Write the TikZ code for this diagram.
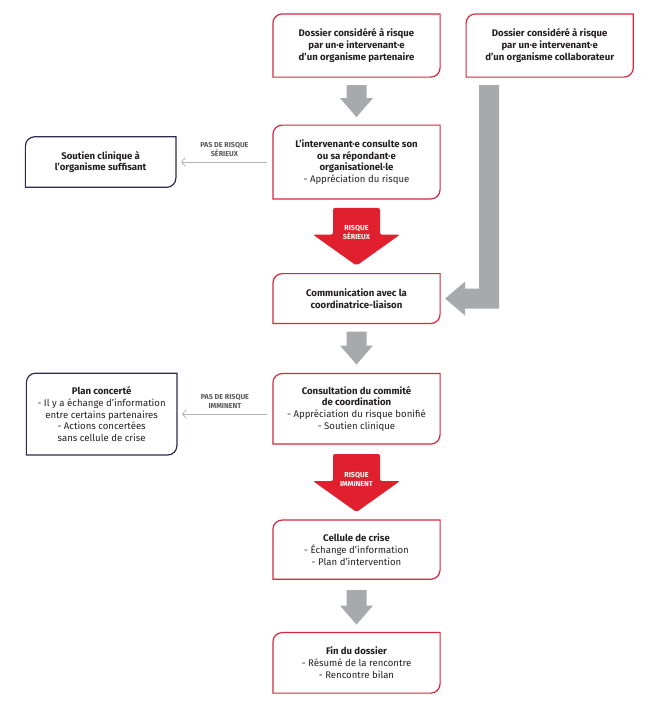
\documentclass[tikz,border=0pt]{standalone}
\usepackage{fontspec}
\setmainfont{Fira Sans}
\usetikzlibrary{positioning,calc,arrows.meta}

\definecolor{rouge}{HTML}{D7263D}
\definecolor{rougefleche}{HTML}{E0202E}
\definecolor{gris}{HTML}{A7A9AC}
\definecolor{grisfin}{HTML}{B4B4B4}
\definecolor{marine}{HTML}{2E2A4F}
\definecolor{texte}{HTML}{231F20}

% bord avec coins arrondis en haut a gauche et en bas a droite
\newcommand\coinbord[2]{\draw[#2, line width=0.9pt] (#1.north) -- (#1.north east)
	[rounded corners=7pt] -- (#1.south east) [sharp corners] -- (#1.south west)
	[rounded corners=7pt] -- (#1.north west) [sharp corners] -- cycle;}
% grosse fleche vers le bas : haut, pointe, demi-tige, demi-tete, longueur tete, style
\newcommand\grossefleche[6]{\fill[#6] ($(#1)+(-#3,0)$) -- ($(#1)+(#3,0)$) -- ($(#2)+(#3,-#5)$)
	-- ($(#2)+(#4,-#5)$) -- (#2) -- ($(#2)+(-#4,-#5)$) -- ($(#2)+(-#3,-#5)$) -- cycle;}

\begin{document}
\begin{tikzpicture}[x=0.75pt,y=-0.75pt,
					boite/.style={align=center, text=texte, inner sep=2pt, minimum width=125pt,
						font=\fontsize{7.2}{8.8}\selectfont},
					petite/.style={boite, minimum width=112.5pt},
					etiq/.style={align=center, text=black!65, inner sep=0pt,
						font=\fontsize{5.4}{6.8}\selectfont\bfseries},
					etiqrouge/.style={etiq, text=white},
					fin/.style={grisfin, line width=0.6pt, -{Straight Barb[length=3pt,width=6.5pt]},
						shorten <=4.5pt, shorten >=3.75pt}]
	\useasboundingbox (0,0) rectangle (655,718);
	
	\node[boite, minimum height=47pt] (A) at (356.5,45.5)
		{\textbf{Dossier considéré à risque}\\\textbf{par un·e intervenant·e}\\\textbf{d’un organisme partenaire}};
	\node[boite, minimum height=47pt, right=19.5pt of A] (B)
		{\textbf{Dossier considéré à risque}\\\textbf{par un·e intervenant·e}\\\textbf{d’un organisme collaborateur}};
	\node[boite, minimum height=55pt, below=36pt of A] (C)
		{\textbf{L’intervenant·e consulte son}\\\textbf{ou sa répondant·e}\\\textbf{organisationel·le}\\- Appréciation du risque};
	\node[petite, minimum height=37.5pt, left=72.75pt of C] (G)
		{\textbf{Soutien clinique à}\\\textbf{l’organisme suffisant}};
	\node[boite, minimum height=37pt, below=56pt of C] (D)
		{\textbf{Communication avec la}\\\textbf{coordinatrice-liaison}};
	\node[boite, minimum height=52.5pt, below=37.5pt of D] (E)
		{\textbf{Consultation du commité}\\\textbf{de coordination}\\- Appréciation du risque bonifié\\- Soutien clinique};
	\node[petite, minimum height=61pt, left=72pt of E, yshift=-4pt] (F)
		{\textbf{Plan concerté}\\- Il y a échange d’information\\entre certains partenaires\\- Actions concertées\\sans cellule de crise};
	\node[boite, minimum height=44pt, below=57pt of E] (H)
		{\textbf{Cellule de crise}\\- Échange d’information\\- Plan d’intervention};
	\node[boite, minimum height=45pt, below=40pt of H] (I)
		{\textbf{Fin du dossier}\\- Résumé de la rencontre\\- Rencontre bilan};
	
	\foreach \n in {A,B,C,D,E,H,I} {\coinbord{\n}{rouge}}
	\foreach \n in {G,F} {\coinbord{\n}{marine}}
	
	% fleches grises
	\coordinate (a1) at ($(A.south)+(0,8)$);
	\coordinate (c1) at ($(C.north)+(0,-8)$);
	\grossefleche{a1}{c1}{10}{16.5}{19}{gris}
	\coordinate (d2) at ($(D.south)+(0,8)$);
	\coordinate (e2) at ($(E.north)+(0,-9)$);
	\grossefleche{d2}{e2}{10}{16.5}{19}{gris}
	\coordinate (h3) at ($(H.south)+(0,11)$);
	\coordinate (i3) at ($(I.north)+(0,-8)$);
	\grossefleche{h3}{i3}{10}{16.5}{19}{gris}
	
	% fleches rouges
	\coordinate (c4) at ($(C.south)+(0,9)$);
	\coordinate (d4) at ($(D.north)+(0,-8)$);
	\grossefleche{c4}{d4}{23.5}{43.5}{31}{rougefleche, rounded corners=1.5pt}
	\node[etiqrouge] (r1) at ($(c4)!0.43!(d4)$) {RISQUE\\SÉRIEUX};
	\coordinate (e5) at ($(E.south)+(0,10)$);
	\coordinate (h5) at ($(H.north)+(0,-8)$);
	\grossefleche{e5}{h5}{23.5}{43.5}{31}{rougefleche, rounded corners=1.5pt}
	\node[etiqrouge] (r2) at ($(e5)!0.43!(h5)$) {RISQUE\\IMMINENT};
	
	% fleche coudee
	\coordinate (bt) at ($(B.south west)+(23,8)$);
	\coordinate (bk) at ($(D.east)+(5,0)$);
	\coordinate (bc) at (bt |- bk);
	\fill[gris] ($(bt)+(-10,0)$) -- ($(bt)+(10,0)$) -- ($(bc)+(10,10)$) -- ($(bk)+(20,10)$)
		-- ($(bk)+(20,17)$) -- (bk) -- ($(bk)+(20,-17)$) -- ($(bk)+(20,-10)$)
		-- ($(bc)+(-10,-10)$) -- cycle;
	
	% fleches fines
	\draw[fin] (C.west) -- (G.east) node[midway, above=4pt, etiq] {PAS DE RISQUE\\SÉRIEUX};
	\draw[fin] (F.east -| E.west) -- (F.east) node[midway, above=4pt, etiq] {PAS DE RISQUE\\IMMINENT};
\end{tikzpicture}
\end{document}
